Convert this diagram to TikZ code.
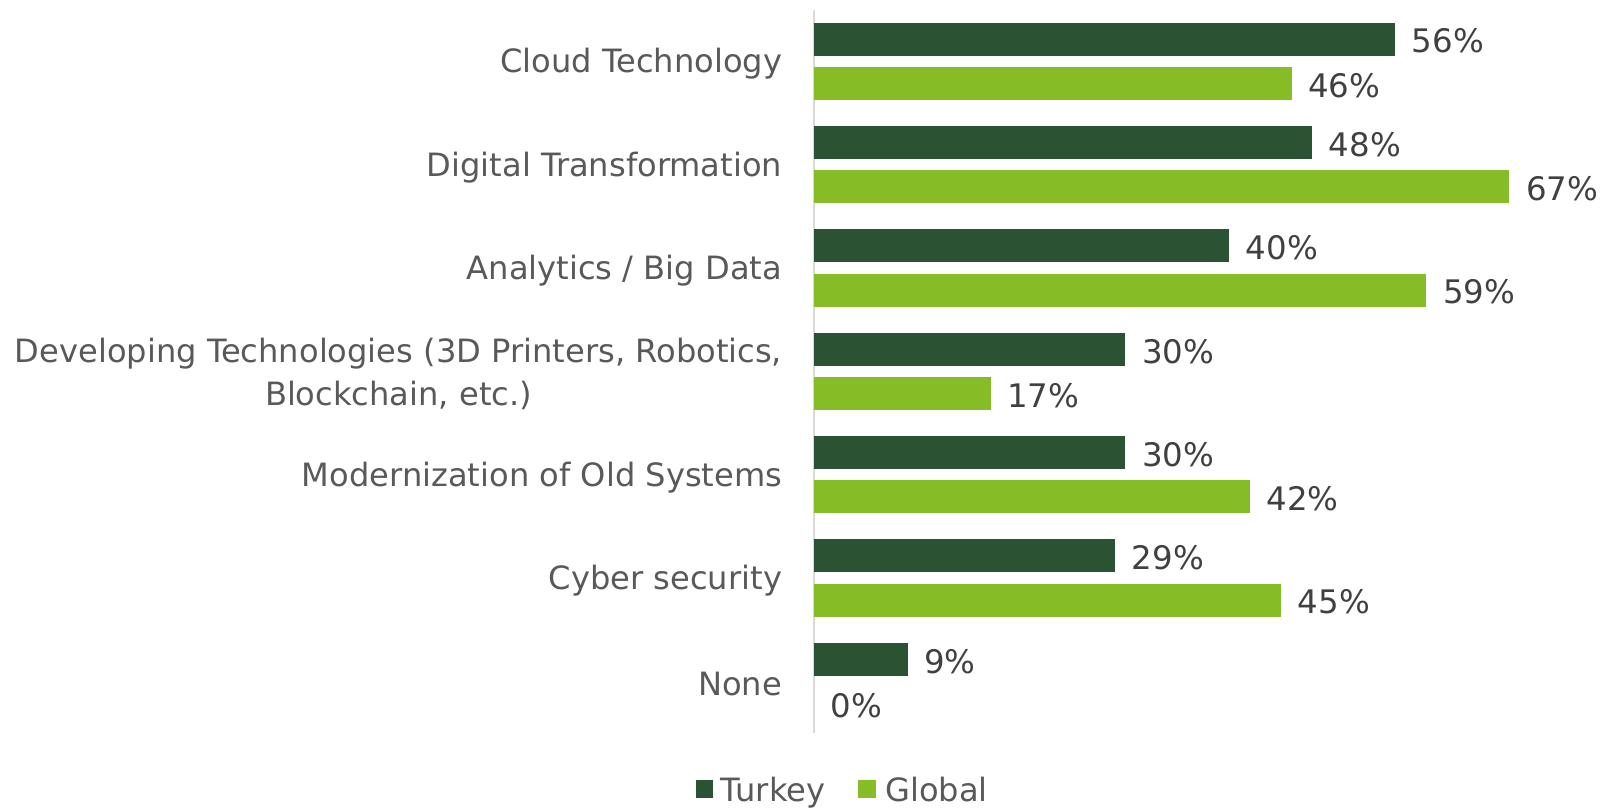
\documentclass[tikz,border=0pt]{standalone}
\usepackage{fontspec}
\setmainfont{DejaVu Sans}
\definecolor{turkey}{HTML}{2C5234}
\definecolor{global}{HTML}{86BC25}
\definecolor{labelgray}{HTML}{595959}
\definecolor{valgray}{HTML}{404040}
\definecolor{axisgray}{HTML}{D9D9D9}
\tikzset{
  cat/.style={anchor=east, inner sep=0pt, align=center, text=labelgray, font=\fontsize{31.2}{41}\selectfont},
  val/.style={anchor=west, inner sep=0pt, text=valgray, font=\fontsize{31.5}{36}\selectfont},
  leg/.style={anchor=base west, inner sep=0pt, text=labelgray, font=\fontsize{31.2}{36}\selectfont},
  tbar/.style={fill=turkey},
  gbar/.style={fill=global},
}
\begin{document}
\begin{tikzpicture}[x=1pt,y=-1pt]
\useasboundingbox (0,0) rectangle (1568,784);
\draw[axisgray, line width=1.5pt] (791,10) coordinate (axtop) -- (791,712) coordinate (axbot);
\foreach [count=\i from 0] \lab/\t/\g in {%
  {Cloud Technology}/56/46,
  {Digital Transformation}/48/67,
  {Analytics / Big Data}/40/59,
  {Developing Technologies (3D Printers, Robotics,\\Blockchain, etc.)}/30/17,
  {Modernization of Old Systems}/30/42,
  {Cyber security}/29/45,
  {None}/9/0} {
  \pgfmathsetmacro\ytop{22+100.4*\i}
  \pgfmathsetmacro\tx{791+10.08*\t}
  \pgfmathsetmacro\gx{791+10.08*\g}
  \fill[tbar] (791,\ytop) rectangle (\tx,{\ytop+32});
  \ifnum\g>0
    \fill[gbar] (791,{\ytop+43}) rectangle (\gx,{\ytop+75});
  \fi
  \node[val] (t\i) at ({\tx+16},{\ytop+18}) {\t\%};
  \node[val] (g\i) at ({\gx+16},{\ytop+61}) {\g\%};
  \node[cat] (c\i) at (760,{\ytop+40}) {\lab};
}
\fill[turkey] (676,758) rectangle (693,775);
\node[leg] (lt) at (700,779) {Turkey};
\fill[global] (834,758) rectangle (851,775);
\node[leg] (lg) at (860,779) {Global};
\end{tikzpicture}
\end{document}
